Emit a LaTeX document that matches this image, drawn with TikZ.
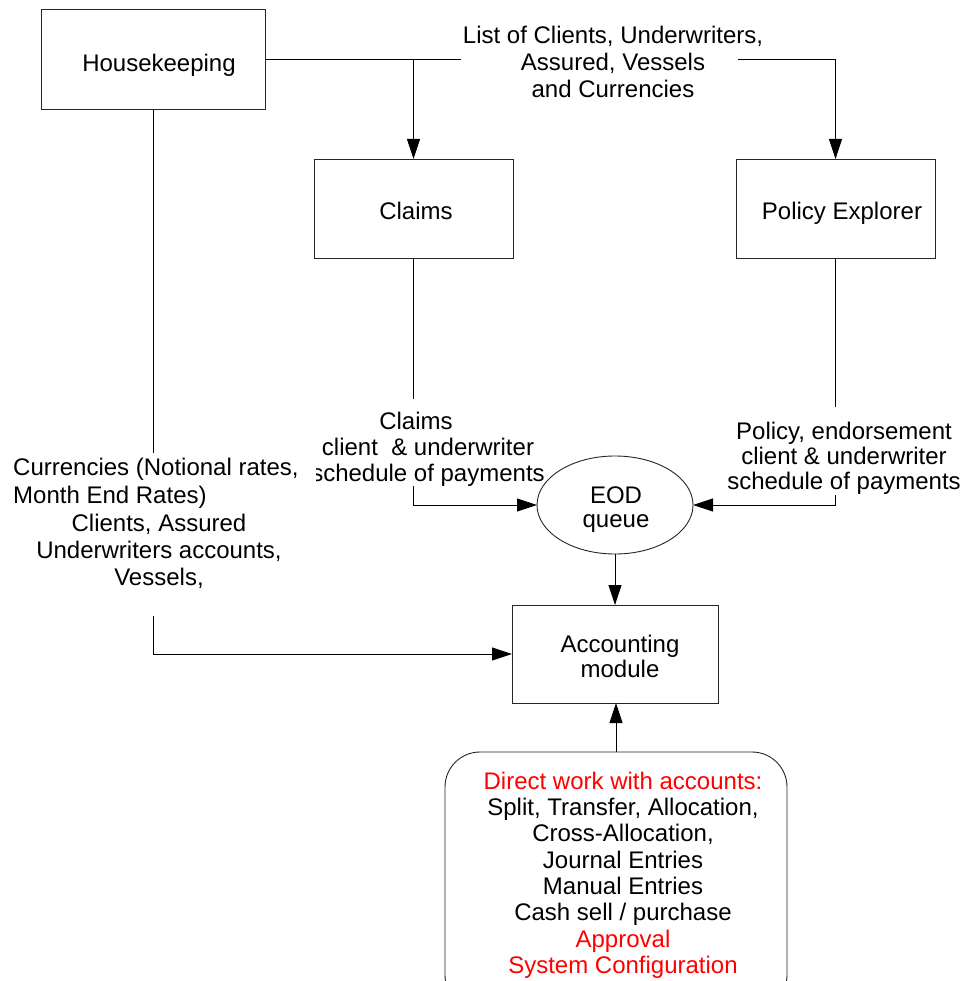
\documentclass[tikz,border=0pt]{standalone}
\usepackage{fontspec}
\setmainfont{Liberation Sans}
\usetikzlibrary{arrows.meta,shapes.geometric}
\begin{document}
\begin{tikzpicture}[x=1pt,y=-1pt,
  font=\fontsize{24}{26}\selectfont,
  every node/.style={inner sep=0pt, outer sep=0pt},
  box/.style={draw=black!85, line width=0.9pt, rectangle},
  flow/.style={draw=black, line width=0.9pt},
  arr/.style={flow, -{Triangle[length=20pt,width=13pt]}},
  txt/.style={align=center, anchor=north},
  lines/.style={font=\fontsize{24}{#1}\selectfont}]
\useasboundingbox[fill=white] (0,0) rectangle (969,981);

% shapes
\node[box, minimum width=224pt, minimum height=100pt] (hk) at (153,59) {};
\node[box, minimum width=199pt, minimum height=99pt] (cl) at (413.5,208.5) {};
\node[box, minimum width=199pt, minimum height=99pt] (pe) at (835.5,208.5) {};
\node[draw=black!85, line width=0.9pt, ellipse, minimum width=156pt, minimum height=98pt] (eod) at (615,505) {};
\node[box, minimum width=206pt, minimum height=98pt] (acc) at (615,654) {};
\node[draw=black!85, line width=0.9pt, rounded corners=35pt, minimum width=342pt, minimum height=258pt] (dw) at (616,881) {};

% texts inside the shapes
\node[anchor=base] (hkt) at (159,71.7) {Housekeeping};
\node[anchor=base] (clt) at (416,220) {Claims};
\node[anchor=base] (pet) at (842,220) {Policy Explorer};
\node[txt, lines=24] (eodt) at (616,486.8) {EOD\\queue};
\node[txt, lines=25] (acct) at (620,635.2) {Accounting\\module};
\node[txt, lines=26.3] (dwt) at (623,771.8) {\textcolor{red}{Direct work with accounts:}\\
  Split, Transfer, Allocation,\\Cross-Allocation,\\Journal Entries\\Manual Entries\\
  Cash sell / purchase\\\textcolor{red}{Approval}\\\textcolor{red}{System Configuration}};

% flow labels
\node[txt, lines=27] (list) at (613,25.8) {List of Clients, Underwriters,\\Assured, Vessels\\and Currencies};
\begin{scope}
  \clip (316,400) rectangle (600,500);
  \node[txt, lines=26.2] (clpay) at (428,411.8) {Claims\hspace*{24pt}\\client\ \ \& underwriter\\schedule of payments};
\end{scope}
\node[txt, lines=25.3] (pepay) at (844,421.8) {Policy, endorsement\\client \& underwriter\\schedule of payments};
\node[anchor=north west, align=left, lines=27.3] (cur) at (13.2,458.5) {Currencies (Notional rates,\\Month End Rates)};
\node[txt, lines=27] (cli) at (159,514.4) {Clients, Assured\\Underwriters accounts,\\Vessels,};

% connectors
\coordinate (t1) at (461,59);
\coordinate (t2) at (738,59);
\draw[flow] (hk.east) -- (t1);
\draw[arr] (t2) -| (pe.north);
\draw[arr] (hk.east -| cl.north) -- (cl.north);

\coordinate (c1) at (413.5,399);
\coordinate (c2) at (413.5,486);
\draw[flow] (cl.south) -- (c1);
\draw[arr] (c2) |- (eod.west);

\coordinate (p1) at (835.5,407);
\coordinate (p2) at (835.5,495);
\draw[flow] (pe.south) -- (p1);
\draw[arr] (p2) |- (eod.east);

\draw[arr] (eod.south) -- (acc.north);

\coordinate (h1) at (153,453);
\coordinate (h2) at (153,616);
\draw[flow] (hk.south) -- (h1);
\draw[arr] (h2) |- (acc.west);

\draw[arr] (dw.north) -- (dw.north |- acc.south);
\end{tikzpicture}
\end{document}
